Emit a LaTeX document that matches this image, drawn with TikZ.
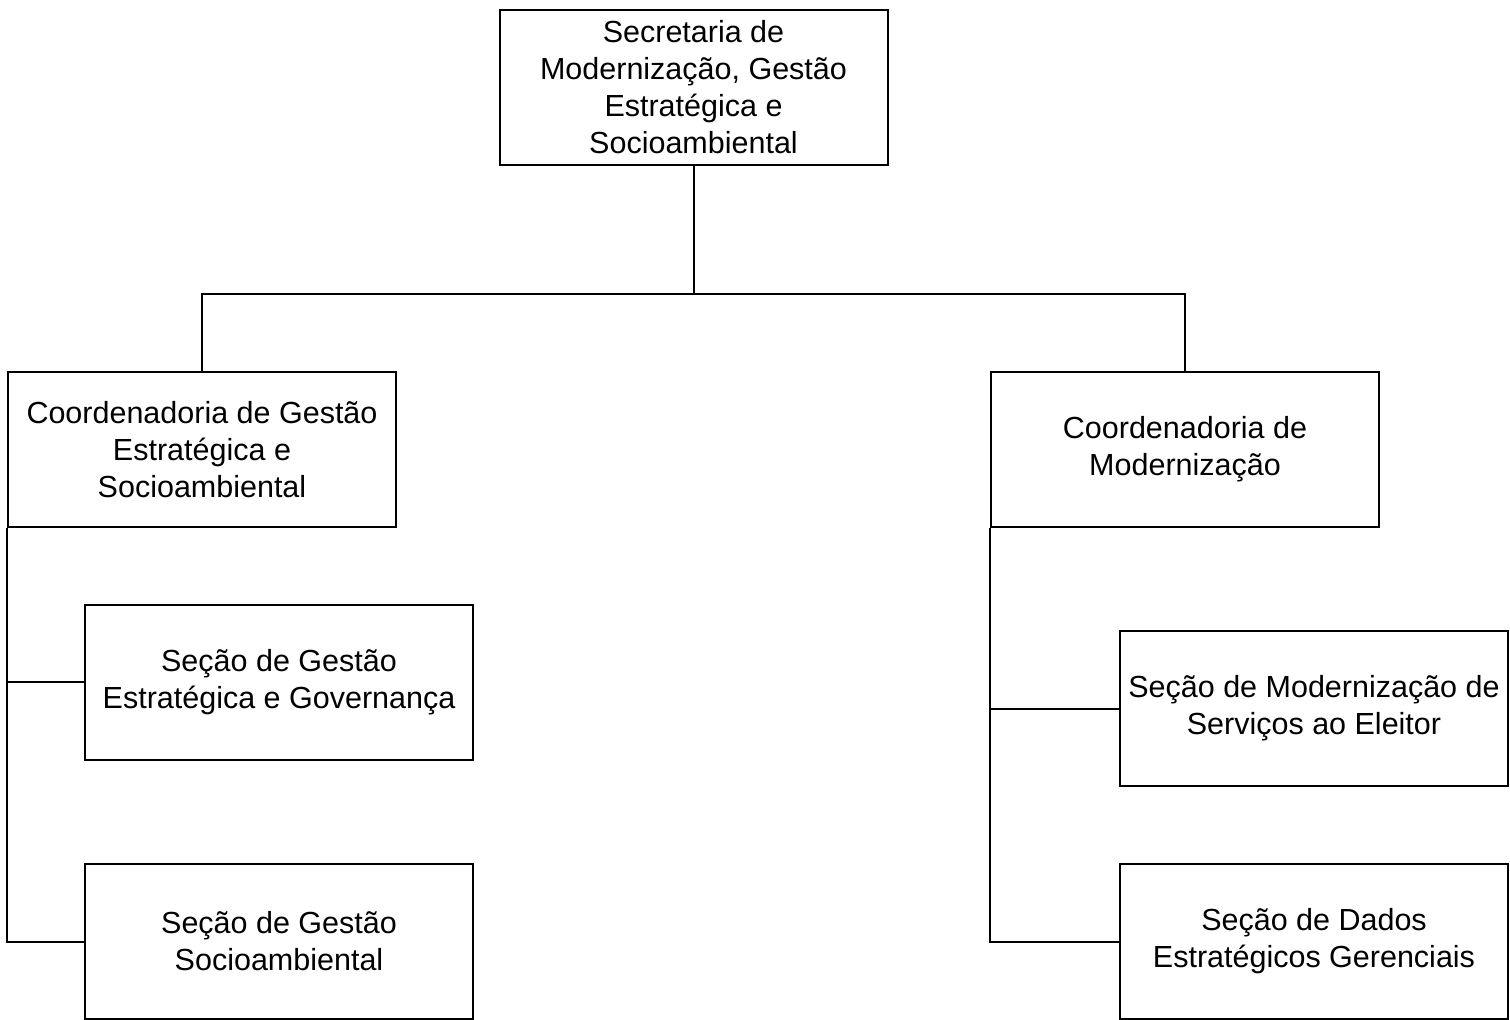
\documentclass[tikz,border=0pt]{standalone}
\usepackage{fontspec}
\setmainfont{Liberation Sans}
\begin{document}
\begin{tikzpicture}[x=1pt,y=-1pt,
  box/.style={draw, line width=2pt, minimum width=388pt, minimum height=155pt, align=center, inner sep=0pt, font=\fontsize{30.5}{37}\selectfont},
  conn/.style={line width=2pt}]
\useasboundingbox (0,0) rectangle (1510,1020);
\node[box] (top) at (693.5,87.5) {Secretaria de\\Modernização, Gestão\\Estratégica e\\Socioambiental};
\node[box] (lc) at (202,449.5) {Coordenadoria de Gestão\\Estratégica e\\Socioambiental};
\node[box] (rc) at (1185,449.5) {Coordenadoria de\\Modernização};
\node[box] (ls1) at (279,682) {Seção de Gestão\\Estratégica e Governança};
\node[box] (ls2) at (279,941.5) {Seção de Gestão\\Socioambiental};
\node[box] (rs1) at (1314,708.5) {Seção de Modernização de\\Serviços ao Eleitor};
\node[box] (rs2) at (1314,941.5) {Seção de Dados\\Estratégicos Gerenciais};
\coordinate (jm) at (693.5,294);
\draw[conn] (top.south) -- (jm);
\draw[conn] (lc.north) |- (jm) -| (rc.north);
\draw[conn] (lc.south west) |- (ls2.west);
\draw[conn] (lc.south west |- ls1.west) -- (ls1.west);
\draw[conn] (rc.south west) |- (rs2.west);
\draw[conn] (rc.south west |- rs1.west) -- (rs1.west);
\end{tikzpicture}
\end{document}
